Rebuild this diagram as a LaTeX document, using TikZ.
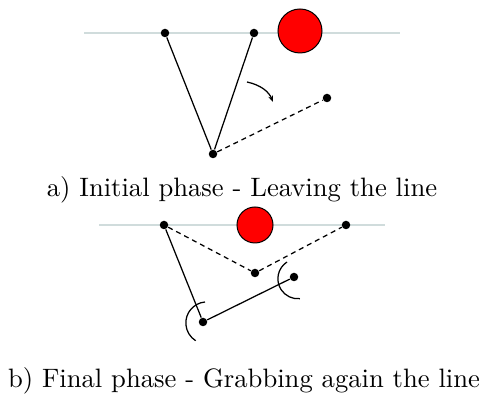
\documentclass[tikz,border=0pt]{standalone}
\usepackage{tikz}
\usetikzlibrary{arrows.meta, positioning}
\definecolor{railgray}{RGB}{208,220,220}
\tikzstyle{joint} = [circle, fill=black, inner sep=0pt, minimum size=3.4pt]
\tikzstyle{ball} = [circle, draw=black, fill=red, inner sep=0pt, line width=0.4pt]
\tikzstyle{rail} = [railgray, line width=0.8pt]
\tikzstyle{arm} = [line width=0.5pt]
\tikzstyle{swing} = [line width=0.5pt, dashed, dash pattern=on 2pt off 1.6pt]
\tikzstyle{caption} = [anchor=base, inner sep=0pt, font=\fontsize{10.65}{12.8}\selectfont]

\begin{document}
\begin{tikzpicture}[x=0.4pt, y=-0.4pt]
        \useasboundingbox (0,0) rectangle (481,398);

        % a) Fase inicial
        \coordinate (railLa) at (84,33);
        \coordinate (railRa) at (400,33);
        \draw [rail] (railLa) -- (railRa);
        \node (ballA) [ball, minimum size=17.6pt] at (300,31) {};
        \node (gripL) [joint] at (165,33) {};
        \node (gripR) [joint] at (254,33) {};
        \node (hipA) [joint] at (213,154) {};
        \node (handA) [joint] at (327,98) {};
        \coordinate (turnS) at (247,82);
        \coordinate (turnE) at (273,102);

        \draw [arm] (gripL) -- (hipA);
        \draw [arm] (gripR) -- (hipA);
        \draw [swing] (hipA) -- (handA);
        \draw [arm, -{Stealth[length=2.6pt, width=2pt]}] (turnS) .. controls (261,85) and (269,92) .. (turnE);

        \node (capA) [caption] at (242,197) {a) Initial phase - Leaving the line};

        % b) Fase final
        \coordinate (railLb) at (99,225);
        \coordinate (railRb) at (385,225);
        \draw [rail] (railLb) -- (railRb);
        \node (ballB) [ball, minimum size=14.4pt] at (255,225) {};
        \node (holdL) [joint] at (164,225) {};
        \node (holdR) [joint] at (346,225) {};
        \node (hipOld) [joint] at (255,273) {};
        \node (hipB) [joint] at (203,322) {};
        \node (handB) [joint] at (294,277) {};

        \draw [swing] (holdL) -- (hipOld);
        \draw [swing] (hipOld) -- (holdR);
        \draw [arm] (holdL) -- (hipB);
        \draw [arm] (hipB) -- (handB);
        \draw [arm] (205,302) arc [start angle=265, end angle=122, radius=21];
        \draw [arm] (287,262) arc [start angle=237, end angle=84, radius=20];

        \node (capB) [caption] at (244,388) {b) Final phase - Grabbing again the line};

    \end{tikzpicture}
\end{document}
